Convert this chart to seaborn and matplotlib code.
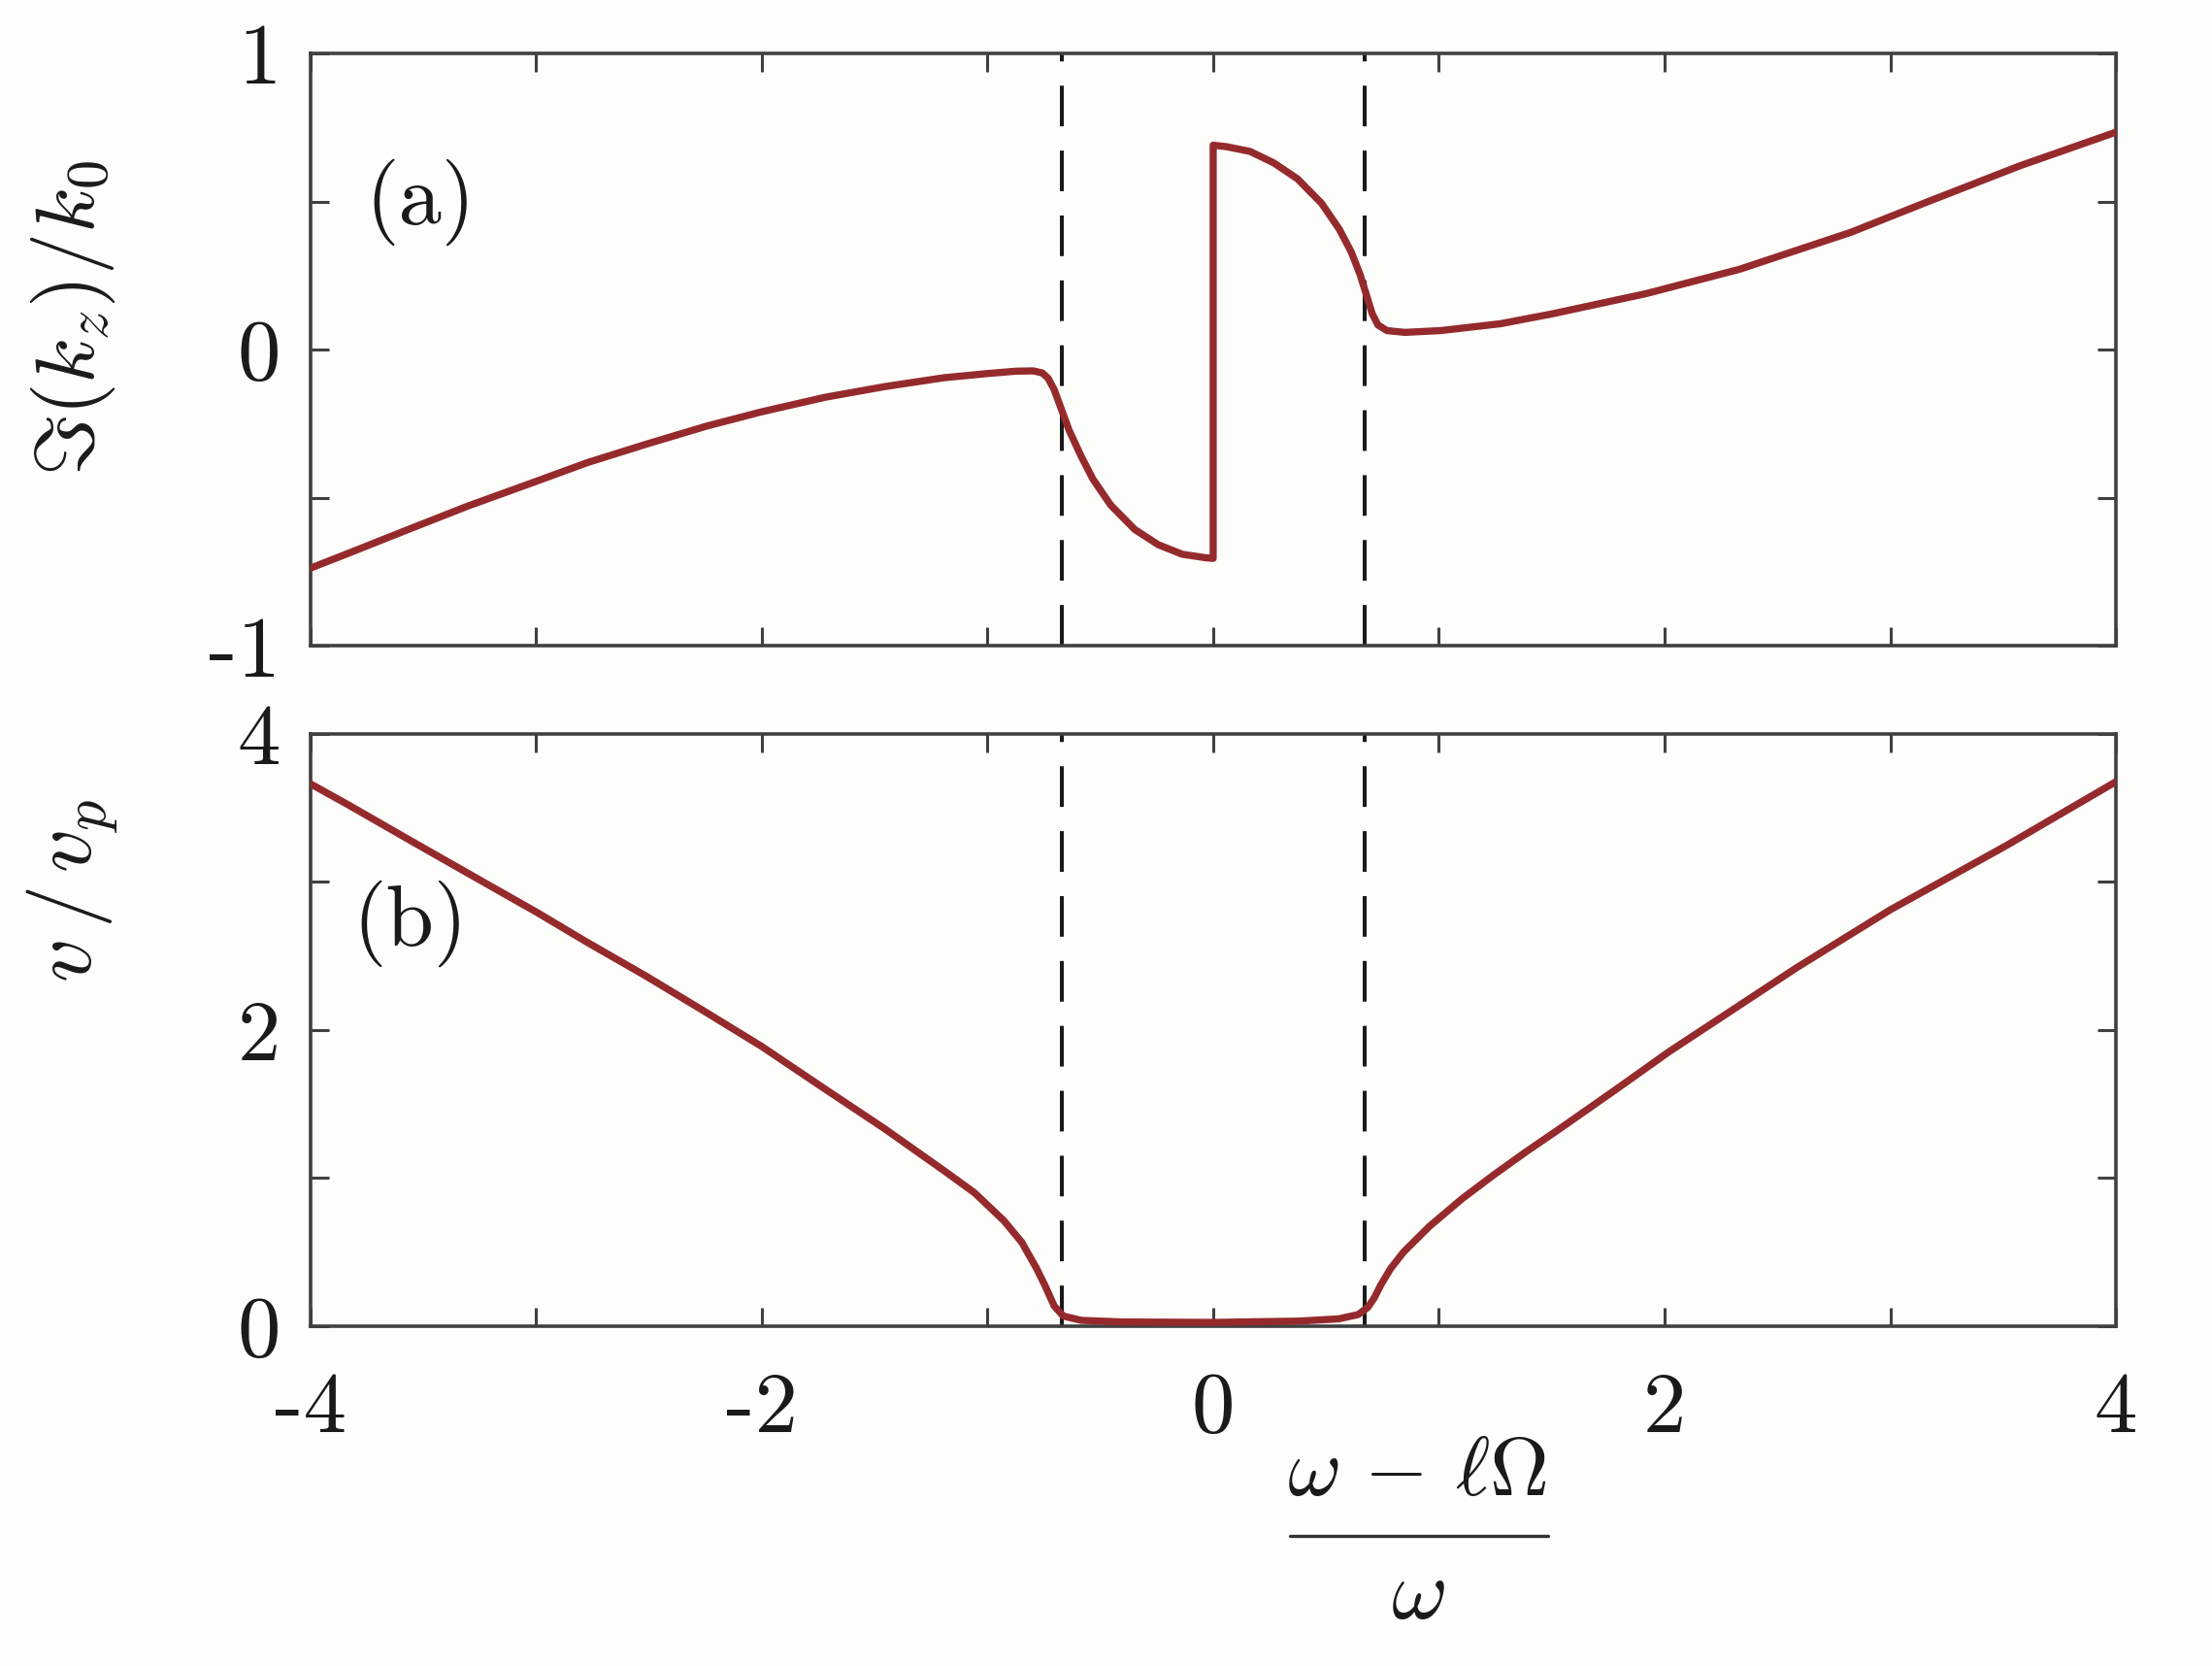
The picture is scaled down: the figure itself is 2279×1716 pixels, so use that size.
import numpy as np
import pandas as pd
import matplotlib
matplotlib.use("Agg")
import matplotlib.pyplot as plt
from matplotlib.lines import Line2D
import seaborn as sns

# ---- data ----
im_x = [-4.0, -3.829, -3.565, -3.301, -3.0, -2.774, -2.51, -2.247, -2.0, -1.719, -1.455,
        -1.192, -1.0, -0.875, -0.796, -0.757, -0.731, -0.704, -0.678, -0.638, -0.585,
        -0.533, -0.454, -0.348, -0.243, -0.137, -0.032, 0.0,
        0.0, 0.058, 0.163, 0.269, 0.374, 0.480, 0.559, 0.612, 0.651, 0.678, 0.704,
        0.730, 0.770, 0.849, 1.007, 1.271, 1.505, 1.919, 2.332, 2.826, 3.159, 3.573, 4.0]
im_y = [-0.737, -0.686, -0.606, -0.527, -0.444, -0.381, -0.318, -0.258, -0.209, -0.160, -0.124,
        -0.094, -0.080, -0.072, -0.071, -0.078, -0.096, -0.135, -0.189, -0.272, -0.359,
        -0.436, -0.524, -0.606, -0.658, -0.690, -0.702, -0.704,
        0.691, 0.686, 0.670, 0.631, 0.577, 0.495, 0.407, 0.330, 0.254, 0.188, 0.123,
        0.084, 0.065, 0.059, 0.065, 0.088, 0.122, 0.190, 0.272, 0.397, 0.498, 0.621, 0.735]

v_x = [-4.0, -3.829, -3.565, -3.301, -3.0, -2.774, -2.51, -2.247, -2.0, -1.719, -1.455,
       -1.192, -1.058, -0.928, -0.848, -0.783, -0.744, -0.704, -0.664, -0.585, -0.401,
       0.0, 0.383, 0.556, 0.642, 0.685, 0.714, 0.743, 0.786, 0.844, 0.957, 1.101, 1.244,
       1.388, 1.531, 1.675, 1.818, 2.019, 2.586, 3.0, 3.51, 4.0]
v_y = [3.661, 3.516, 3.285, 3.056, 2.796, 2.591, 2.36, 2.118, 1.887, 1.599, 1.331,
       1.048, 0.900, 0.712, 0.565, 0.39, 0.269, 0.134, 0.067, 0.038, 0.027,
       0.024, 0.033, 0.048, 0.077, 0.125, 0.19, 0.278, 0.387, 0.50, 0.671, 0.857, 1.021,
       1.178, 1.327, 1.48, 1.633, 1.851, 2.42, 2.81, 3.24, 3.675]

cutoffs = [-0.67, 0.67]
x_ticks = [-4, -3, -2, -1, 0, 1, 2, 3, 4]
x_ticklabels = ["-4", "", "-2", "", "0", "", "2", "", "4"]
top_yticks = [-1, -0.5, 0, 0.5, 1]
top_yticklabels = ["-1", "", "0", "", "1"]
bot_yticks = [0, 1, 2, 3, 4]
bot_yticklabels = ["0", "", "2", "", "4"]

df_im = pd.DataFrame({"x": im_x, "y": im_y})
df_v = pd.DataFrame({"x": v_x, "y": v_y})

# ---- style ----
sns.set_style("ticks")
plt.rcParams["mathtext.fontset"] = "cm"
plt.rcParams["font.family"] = ["cmr10", "DejaVu Sans"]
plt.rcParams["axes.unicode_minus"] = False

bg = "#fdfdfb"
spine_c = "#404040"
line_c = "#952a2d"
txt_c = "#1a1a1a"

fig = plt.figure(figsize=(22.79, 17.16), dpi=100, facecolor=bg)
ax1 = fig.add_axes([0.1403, 0.6122, 0.8163, 0.3556])
ax2 = fig.add_axes([0.1403, 0.2041, 0.8163, 0.3556])

tick_fs = 64

for ax, df, yt, ytl, ylim in [
    (ax1, df_im, top_yticks, top_yticklabels, (-1, 1)),
    (ax2, df_v, bot_yticks, bot_yticklabels, (0, 4)),
]:
    ax.set_facecolor(bg)
    for xc in cutoffs:
        ax.axvline(xc, color=txt_c, lw=2.9, dashes=(10.4, 6.2), zorder=1)
    sns.lineplot(data=df, x="x", y="y", ax=ax, color=line_c, lw=5.3,
                 estimator=None, sort=False, zorder=3)
    ax.set_xlim(-4, 4)
    ax.set_ylim(*ylim)
    ax.set_xticks(x_ticks)
    ax.set_yticks(yt)
    ax.set_yticklabels(ytl, fontsize=tick_fs, fontfamily="cmr10")
    ax.set_xlabel("")
    ax.set_ylabel("")
    ax.tick_params(direction="in", length=14, width=2.2, color=spine_c,
                   top=True, right=True, labelcolor=txt_c)
    ax.tick_params(axis="y", pad=22)
    ax.tick_params(axis="x", pad=34)
    for s in ax.spines.values():
        s.set_visible(True)
        s.set_color(spine_c)
        s.set_linewidth(2.6)

ax1.set_xticklabels([""] * len(x_ticks))
ax2.set_xticklabels(x_ticklabels, fontsize=tick_fs, fontfamily="cmr10")

ax1.text(0.061, 0.75, "(a)", transform=ax1.transAxes, fontsize=tick_fs,
         fontfamily="cmr10", ha="center", va="center", color=txt_c)
ax2.text(0.055, 0.679, "(b)", transform=ax2.transAxes, fontsize=tick_fs,
         fontfamily="cmr10", ha="center", va="center", color=txt_c)

# y labels
fig.text(0.033, 0.809, r"$\Im(k_z)/k_0$", rotation=90, fontsize=62,
         ha="center", va="center", color=txt_c)
fig.text(0.033, 0.4656, r"$v\,/\,v_p$", rotation=90, fontsize=64,
         ha="center", va="center", color=txt_c)

# x label as a built-up fraction
fig.text(0.6406, 0.1026, r"$\omega\, -\, \ell\Omega$", fontsize=61,
         ha="center", va="baseline", color=txt_c)
fig.add_artist(Line2D([0.5831, 0.6999], [0.0781, 0.0781], transform=fig.transFigure,
                      color="#333333", lw=2.4))
fig.text(0.641, 0.0286, r"$\omega$", fontsize=64,
         ha="center", va="baseline", color=txt_c)

fig.savefig("out.png", dpi=100, facecolor=bg)
